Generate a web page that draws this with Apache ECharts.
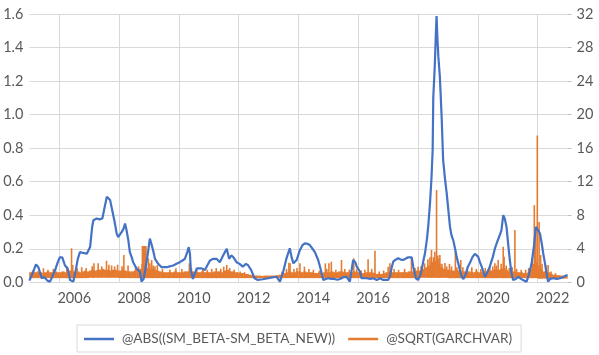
<!doctype html>
<html>
<head>
<meta charset="utf-8">
<title>ABS beta diff vs SQRT(GARCHVAR)</title>
<style>
    html, body { margin: 0; padding: 0; background: #fff; }
    #chart { width: 599px; height: 355px; }
</style>
</head>
<body>
<div id="chart"></div>
<script src="https://cdn.jsdelivr.net/npm/echarts@6/dist/echarts.min.js"></script>
<script>
// series names
var blueName = '@ABS((SM_BETA-SM_BETA_NEW))';
var orangeName = '@SQRT(GARCHVAR)';

// x-axis year labels / gridlines
var yearLabels = [2006, 2008, 2010, 2012, 2014, 2016, 2018, 2020, 2022];

// blue line (left axis), time in decimal years
var blueT = [2005.00, 2005.10, 2005.22, 2005.30, 2005.36, 2005.41, 2005.50, 2005.60, 2005.69, 2005.78, 2005.86, 2005.95,
    2006.02, 2006.10, 2006.19, 2006.28, 2006.36, 2006.47, 2006.55, 2006.62, 2006.69, 2006.80, 2006.92,
    2007.03, 2007.10, 2007.14, 2007.25, 2007.35, 2007.44, 2007.52, 2007.59, 2007.65, 2007.70, 2007.77, 2007.84, 2007.92, 2007.97,
    2008.03, 2008.09, 2008.15, 2008.20, 2008.25, 2008.31, 2008.36, 2008.42, 2008.47, 2008.53, 2008.59, 2008.70, 2008.75, 2008.82, 2008.90, 2008.96,
    2009.03, 2009.08, 2009.14, 2009.20, 2009.31, 2009.42, 2009.50, 2009.59, 2009.70, 2009.81, 2009.92,
    2010.03, 2010.12, 2010.20, 2010.28, 2010.33, 2010.37, 2010.40, 2010.47, 2010.53, 2010.60, 2010.76, 2010.87, 2010.95,
    2011.04, 2011.15, 2011.26, 2011.37, 2011.48, 2011.60, 2011.68, 2011.75, 2011.82, 2011.93,
    2012.03, 2012.14, 2012.24, 2012.31, 2012.42, 2012.53, 2012.64, 2012.80, 2012.99,
    2013.15, 2013.27, 2013.38, 2013.49, 2013.60, 2013.71, 2013.77, 2013.83, 2013.94,
    2014.05, 2014.13, 2014.21, 2014.30, 2014.38, 2014.47, 2014.55, 2014.66, 2014.75, 2014.83, 2014.92,
    2015.00, 2015.10, 2015.20, 2015.30, 2015.39, 2015.50, 2015.61, 2015.72, 2015.83, 2015.90, 2015.95,
    2016.06, 2016.11, 2016.28, 2016.40, 2016.50, 2016.62, 2016.73, 2016.84,
    2017.00, 2017.06, 2017.12, 2017.17, 2017.25, 2017.34, 2017.42, 2017.50, 2017.58, 2017.67, 2017.79, 2017.84, 2017.93,
    2018.00, 2018.07, 2018.12, 2018.18, 2018.23, 2018.30, 2018.34, 2018.40, 2018.45, 2018.49, 2018.51, 2018.56, 2018.60, 2018.62,
    2018.65, 2018.68, 2018.73, 2018.79, 2018.84, 2018.90, 2018.96,
    2019.02, 2019.07, 2019.12, 2019.18, 2019.24, 2019.29, 2019.35, 2019.40, 2019.46, 2019.52, 2019.60, 2019.66, 2019.73, 2019.82, 2019.90,
    2020.01, 2020.07, 2020.13, 2020.19, 2020.24, 2020.32, 2020.40, 2020.50, 2020.57, 2020.63, 2020.71, 2020.79, 2020.85, 2020.90, 2020.96,
    2021.02, 2021.07, 2021.12, 2021.18, 2021.27, 2021.35, 2021.45, 2021.55, 2021.63, 2021.70, 2021.80, 2021.88, 2021.94, 2021.97,
    2022.02, 2022.08, 2022.14, 2022.19, 2022.25, 2022.30, 2022.35, 2022.42, 2022.52, 2022.65, 2022.75, 2022.85, 2022.97, 2023.00];
var blueV = [0.01, 0.05, 0.107, 0.09, 0.085, 0.025, 0.03, 0.01, 0.004, 0.04, 0.073, 0.12,
    0.149, 0.149, 0.10, 0.083, 0.014, 0.004, 0.073, 0.14, 0.18, 0.175, 0.17,
    0.21, 0.33, 0.37, 0.38, 0.375, 0.38, 0.45, 0.51, 0.50, 0.49, 0.43, 0.37, 0.29, 0.27,
    0.28, 0.30, 0.32, 0.35, 0.31, 0.25, 0.18, 0.15, 0.12, 0.10, 0.08, 0.063, 0.004, 0.02, 0.10, 0.17,
    0.26, 0.23, 0.19, 0.14, 0.11, 0.09, 0.09, 0.09, 0.095, 0.10, 0.11,
    0.12, 0.13, 0.14, 0.18, 0.21, 0.17, 0.073, 0.02, 0.05, 0.083, 0.083, 0.073, 0.10,
    0.13, 0.14, 0.14, 0.12, 0.16, 0.20, 0.14, 0.16, 0.15, 0.12,
    0.11, 0.093, 0.11, 0.103, 0.073, 0.024, 0.014, 0.018, 0.024,
    0.03, 0.033, 0.004, 0.063, 0.143, 0.203, 0.15, 0.113, 0.133,
    0.193, 0.22, 0.232, 0.23, 0.222, 0.20, 0.18, 0.133, 0.073, 0.014, 0.02,
    0.024, 0.02, 0.02, 0.015, 0.02, 0.03, 0.033, 0.004, 0.133, 0.12, 0.093,
    0.063, 0.024, 0.024, 0.02, 0.024, 0.014, 0.024, 0.014,
    0.014, 0.033, 0.09, 0.123, 0.135, 0.143, 0.135, 0.133, 0.14, 0.149, 0.149, 0.093, 0.024,
    0.014, 0.04, 0.073, 0.13, 0.17, 0.26, 0.33, 0.47, 0.62, 0.79, 1.10, 1.29, 1.50, 1.587,
    1.45, 1.345, 1.226, 0.987, 0.729, 0.62, 0.53,
    0.42, 0.33, 0.28, 0.25, 0.20, 0.153, 0.11, 0.073, 0.033, 0.02, 0.05, 0.09, 0.113, 0.15, 0.169,
    0.153, 0.12, 0.093, 0.06, 0.033, 0.06, 0.093, 0.15, 0.20, 0.232, 0.27, 0.31, 0.40, 0.38, 0.33,
    0.22, 0.133, 0.06, 0.014, 0.02, 0.033, 0.02, 0.01, 0.004, 0.04, 0.113, 0.22, 0.33, 0.33,
    0.31, 0.29, 0.23, 0.17, 0.11, 0.054, 0.004, 0.02, 0.024, 0.02, 0.024, 0.03, 0.043, 0.04];

// orange (right axis): monthly top of the dense band, Jan 2005 .. Dec 2022
var orangeBand = [
    1.2, 1.3, 1.2, 1.3, 1.2, 1.1, 1.2, 1.3, 1.2, 1.2, 1.3, 1.2,      // 2005
    1.2, 1.3, 1.2, 1.3, 1.4, 1.3, 1.2, 1.3, 1.2, 1.3, 1.4, 1.3,      // 2006
    1.4, 1.5, 1.4, 1.5, 1.5, 1.6, 1.5, 1.5, 1.4, 1.5, 1.5, 1.4,      // 2007
    1.4, 1.5, 1.4, 1.3, 1.3, 1.3, 1.4, 1.5, 1.6, 2.2, 2.4, 1.7,      // 2008
    1.6, 1.6, 1.5, 1.4, 1.3, 1.2, 1.2, 1.2, 1.2, 1.2, 1.3, 1.2,      // 2009
    1.2, 1.2, 1.3, 1.3, 1.4, 1.3, 1.2, 1.2, 1.2, 1.3, 1.2, 1.2,      // 2010
    1.2, 1.2, 1.3, 1.3, 1.3, 1.2, 1.4, 1.5, 1.3, 1.3, 1.2, 1.2,      // 2011
    1.1, 1.1, 1.0, 1.0, 0.9, 0.85, 0.8, 0.8, 0.8, 0.75, 0.8, 0.8,    // 2012
    0.8, 0.8, 0.8, 0.85, 0.9, 1.0, 1.1, 1.2, 1.3, 1.2, 1.2, 1.3,     // 2013
    1.3, 1.2, 1.3, 1.2, 1.2, 1.2, 1.1, 1.1, 1.2, 1.1, 1.2, 1.2,      // 2014
    1.2, 1.3, 1.2, 1.2, 1.3, 1.3, 1.2, 1.2, 1.2, 1.2, 1.3, 1.2,      // 2015
    1.2, 1.1, 1.1, 1.2, 1.2, 1.2, 1.1, 1.0, 1.0, 1.0, 1.1, 1.2,      // 2016
    1.3, 1.2, 1.2, 1.2, 1.2, 1.2, 1.2, 1.2, 1.3, 1.3, 1.3, 1.4,      // 2017
    1.4, 1.5, 1.6, 1.8, 2.0, 2.4, 2.6, 2.5, 2.2, 1.8, 1.6, 1.5,      // 2018
    1.5, 1.4, 1.4, 1.5, 1.4, 1.3, 1.3, 1.2, 1.3, 1.2, 1.2, 1.3,      // 2019
    1.2, 1.2, 1.3, 1.3, 1.4, 1.4, 1.5, 1.5, 1.5, 1.6, 1.7, 1.5,      // 2020
    1.3, 1.3, 1.3, 1.2, 1.2, 1.2, 1.1, 1.1, 1.2, 1.6, 2.2, 2.4,      // 2021
    2.0, 1.6, 1.3, 1.2, 1.2, 1.0, 0.9, 0.85, 0.85, 0.8, 0.8, 0.8     // 2022
];
// orange: bottom of the band, one value per year 2005..2022
var orangeFloor = [0.5, 0.5, 0.55, 0.5, 0.5, 0.5, 0.5, 0.5, 0.5, 0.5, 0.5, 0.5, 0.5, 0.55, 0.5, 0.5, 0.5, 0.45];
// orange: individual spikes above the band
var spikeT = [2005.13, 2005.47, 2005.62, 2005.80,
    2006.25, 2006.41, 2006.45, 2006.60, 2006.75, 2006.90,
    2007.10, 2007.16, 2007.30, 2007.42, 2007.58, 2007.66, 2007.75, 2007.85, 2007.95,
    2008.10, 2008.16, 2008.30, 2008.55, 2008.65, 2008.78, 2008.81, 2008.84, 2008.87, 2008.90, 2008.98,
    2009.03, 2009.09, 2009.14, 2009.20, 2009.28, 2009.45, 2009.70, 2009.90,
    2010.10, 2010.35, 2010.42, 2010.60, 2010.80, 2010.95,
    2011.10, 2011.25, 2011.40, 2011.50, 2011.60, 2011.70, 2011.85,
    2012.05, 2012.20,
    2013.45, 2013.60, 2013.68, 2013.72, 2013.85, 2013.95,
    2014.05, 2014.20, 2014.35, 2014.50, 2014.70, 2014.90, 2014.95,
    2015.02, 2015.10, 2015.25, 2015.44, 2015.55, 2015.70, 2015.85, 2015.95,
    2016.10, 2016.22, 2016.33, 2016.45, 2016.56, 2016.70, 2016.85,
    2017.00, 2017.06, 2017.20, 2017.35, 2017.55, 2017.78, 2017.90,
    2018.00, 2018.10, 2018.22, 2018.33, 2018.40, 2018.45, 2018.52, 2018.56, 2018.62, 2018.66, 2018.70, 2018.73, 2018.80, 2018.90, 2018.96,
    2019.05, 2019.12, 2019.25, 2019.30, 2019.43, 2019.50, 2019.65, 2019.80, 2019.95,
    2020.10, 2020.25, 2020.40, 2020.50, 2020.57, 2020.62, 2020.68, 2020.78, 2020.85, 2020.88, 2020.95,
    2021.05, 2021.15, 2021.24, 2021.30, 2021.45, 2021.60, 2021.70, 2021.82, 2021.89, 2021.94, 2021.99,
    2022.05, 2022.10, 2022.15, 2022.27, 2022.35, 2022.45, 2022.60];
var spikeV = [1.47, 1.67, 1.5, 1.6,
    1.86, 4.05, 2.06, 1.7, 1.8, 1.7,
    1.9, 2.26, 2.26, 1.9, 2.57, 2.1, 2.0, 1.9, 2.1,
    1.9, 3.25, 2.0, 1.8, 1.9, 4.33, 4.33, 4.33, 4.33, 4.33, 2.86,
    2.26, 2.66, 2.0, 1.9, 2.06, 1.6, 1.5, 1.67,
    1.6, 2.26, 1.7, 1.5, 1.6, 1.5,
    1.6, 1.7, 1.6, 1.86, 2.06, 1.7, 1.5,
    1.3, 1.2,
    1.3, 1.6, 2.34, 2.26, 1.6, 1.7,
    2.26, 1.86, 1.6, 1.5, 1.4, 2.26, 1.6,
    2.26, 2.46, 1.5, 2.66, 1.6, 1.5, 2.86, 1.6,
    1.4, 1.5, 2.74, 1.6, 3.77, 1.3, 1.4,
    1.86, 2.26, 1.6, 1.5, 1.6, 2.98, 1.7,
    1.86, 1.9, 2.26, 2.74, 3.0, 3.85, 3.0, 3.65, 11.0, 3.2, 2.8, 3.25, 2.2, 2.3, 1.9,
    2.2, 1.9, 3.65, 1.8, 2.66, 1.8, 1.7, 1.8, 1.6,
    1.6, 1.7, 2.06, 1.9, 2.26, 2.0, 2.66, 2.2, 4.24, 3.05, 2.0,
    1.7, 1.8, 6.23, 1.6, 1.5, 1.5, 1.7, 2.86, 9.2, 6.2, 17.5,
    7.2, 3.25, 2.2, 2.06, 2.06, 1.3, 1.1];

var startYear = 2005;
function floorAt(t) {
    var i = Math.min(orangeFloor.length - 1, Math.max(0, Math.floor(t - startYear)));
    return orangeFloor[i];
}

var blueData = blueT.map(function (t, i) { return [t, blueV[i]]; });
// [time, bottom, top]
var bandData = orangeBand.map(function (v, i) {
    var t = startYear + (i + 0.5) / 12;
    return [t, floorAt(t), v];
});
var spikeData = spikeT.map(function (t, i) {
    return [t, floorAt(t), spikeV[i]];
});

var font = 'Lato, "Noto Sans", sans-serif';
var gridColor = '#d9d9d9';
var textColor = '#595959';
var blue = '#4472C4';
var orange = '#E57B30';

// draws a vertical block from bottom to top; halfW is in years, padPx widens it on screen
function blockRenderer(halfW, padPx) {
    return function (params, api) {
        var t = api.value(0);
        var p0 = api.coord([t - halfW, api.value(2)]);
        var p1 = api.coord([t + halfW, api.value(1)]);
        return {
            type: 'rect',
            shape: {x: p0[0] - padPx, y: p0[1], width: p1[0] - p0[0] + 2 * padPx, height: p1[1] - p0[1]},
            style: {fill: orange}
        };
    };
}

var chart = echarts.init(document.getElementById('chart'));
var option = {
    animation: false,
    grid: {left: 29.4, right: 31.5, top: 13.9, bottom: 72.7, outerBoundsMode: 'none'},
    legend: {
        left: 77, top: 325,
        data: [{name: blueName, icon: 'rect'}, {name: orangeName, icon: 'rect'}],
        itemWidth: 30, itemHeight: 2.5, itemGap: 13,
        padding: [7, 9, 6, 7],
        borderColor: gridColor, borderWidth: 1, borderRadius: 0,
        selectedMode: false,
        textStyle: {fontFamily: font, fontSize: 13.6, color: textColor, padding: [0, 0, 0, 3]}
    },
    xAxis: {
        type: 'value', min: 2005, max: 2023,
        axisLine: {show: true, lineStyle: {color: gridColor}},
        axisTick: {show: false, customValues: yearLabels},
        splitLine: {show: true, lineStyle: {color: gridColor, width: 1}},
        axisLabel: {
            customValues: yearLabels.map(function (y) { return y + 0.5; }),
            formatter: function (v) { return String(Math.round(v - 0.5)); },
            margin: 9, fontFamily: font, fontSize: 14.5, color: textColor
        }
    },
    yAxis: [{
        type: 'value', min: 0, max: 1.6, interval: 0.2, position: 'left',
        axisLine: {show: false}, axisTick: {show: false},
        splitLine: {show: true, lineStyle: {color: gridColor, width: 1}},
        axisLabel: {
            formatter: function (v) { return v.toFixed(1); },
            margin: 6, fontFamily: font, fontSize: 14.5, color: textColor
        }
    }, {
        type: 'value', min: 0, max: 32, interval: 4, position: 'right',
        axisLine: {show: false},
        axisTick: {show: true, length: 4, lineStyle: {color: '#bfbfbf'}},
        splitLine: {show: false},
        axisLabel: {margin: 9, fontFamily: font, fontSize: 14.5, color: textColor}
    }],
    series: [{
        name: orangeName, type: 'custom', yAxisIndex: 1,
        data: bandData, encode: {x: 0, y: [1, 2]},
        itemStyle: {color: orange}, color: orange,
        renderItem: blockRenderer(1 / 24, 0.25)
    }, {
        name: orangeName, type: 'custom', yAxisIndex: 1,
        data: spikeData, encode: {x: 0, y: [1, 2]},
        itemStyle: {color: orange}, color: orange,
        renderItem: blockRenderer(0, 0.8)
    }, {
        name: blueName, type: 'line', yAxisIndex: 0,
        data: blueData, showSymbol: false, z: 5, color: blue,
        lineStyle: {color: blue, width: 2.2}
    }]
};
chart.setOption(option);
</script>
</body>
</html>
